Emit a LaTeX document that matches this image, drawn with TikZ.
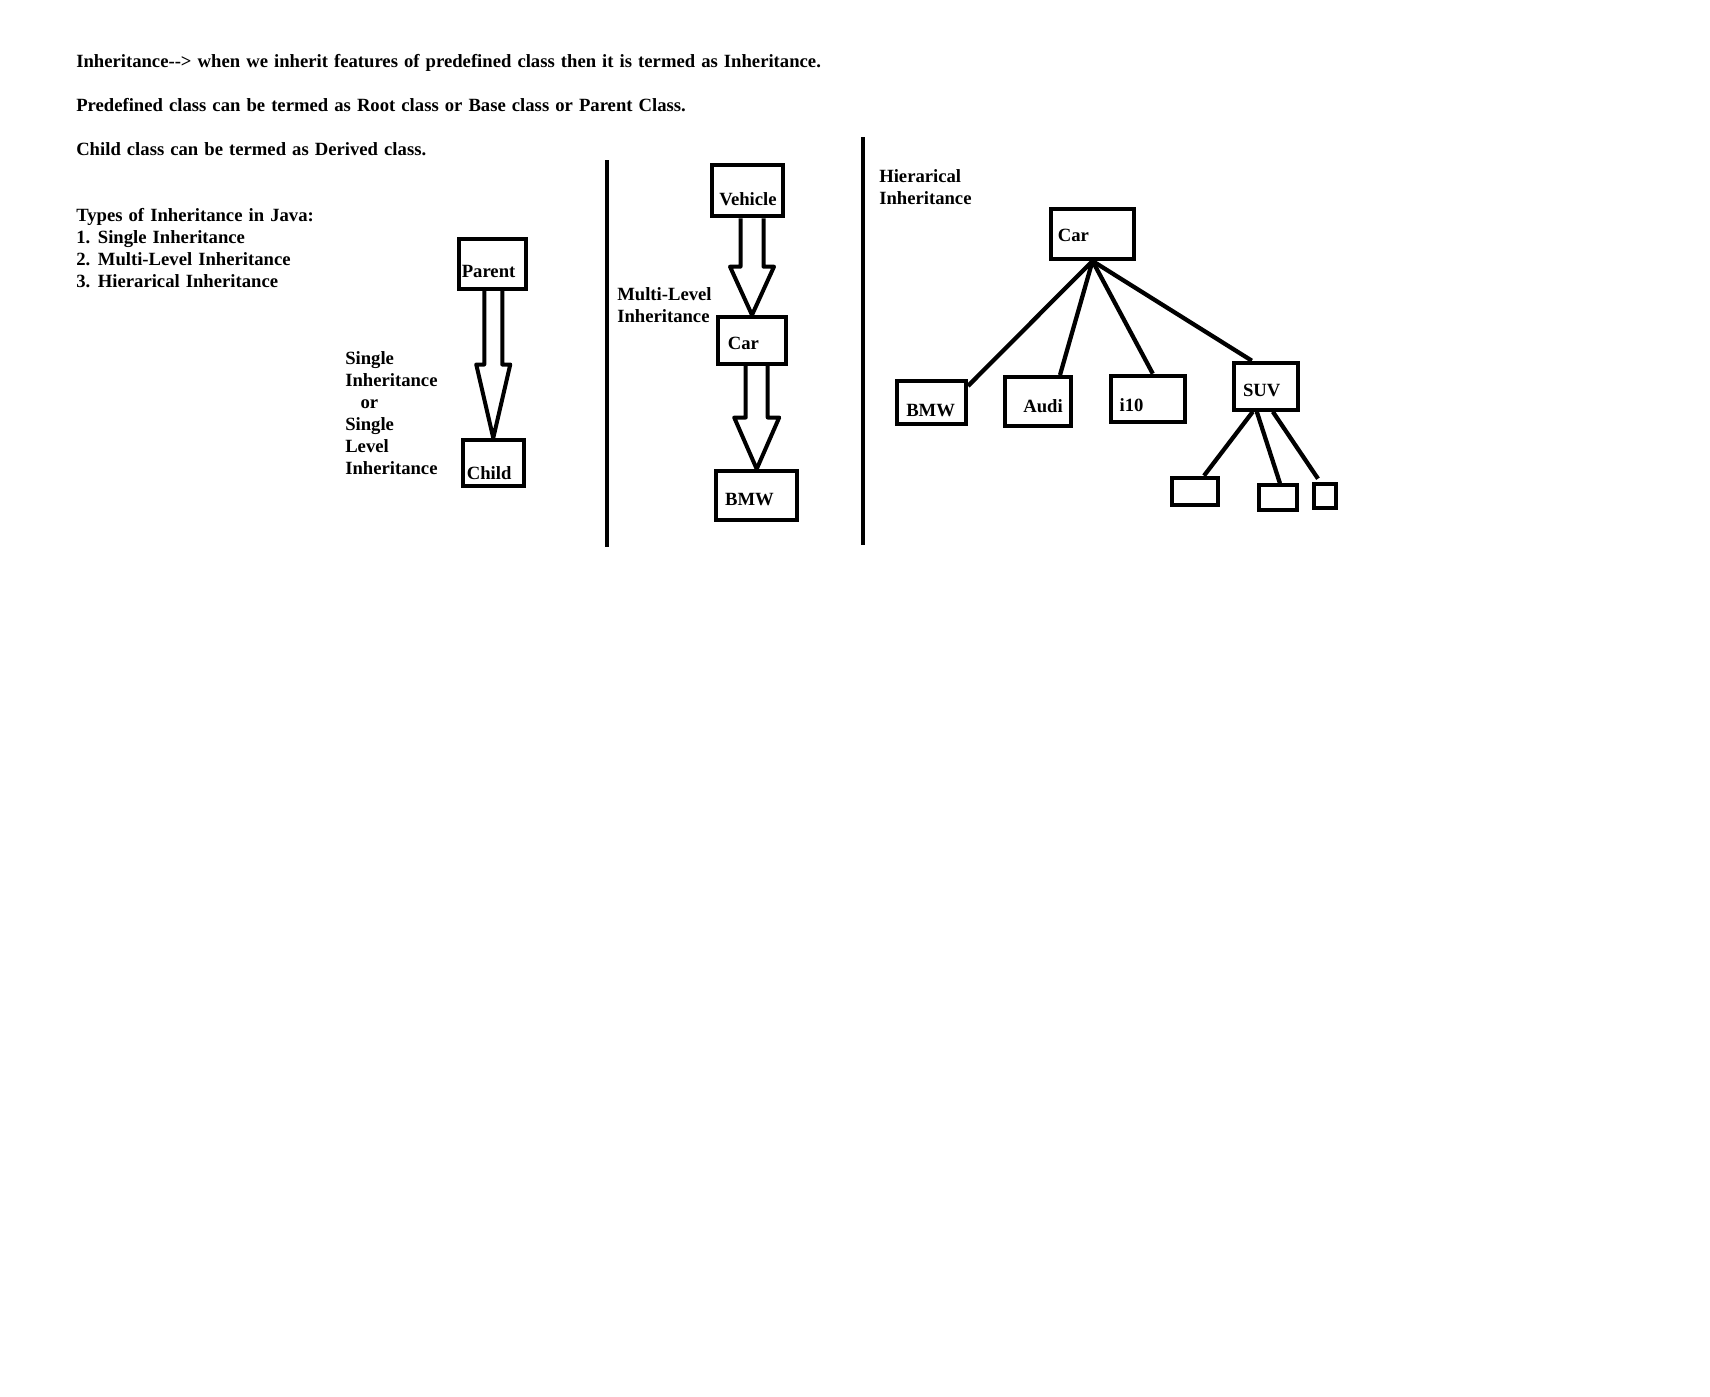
\documentclass[tikz,border=0pt]{standalone}
\usepackage{fontspec}
\setmainfont{Liberation Serif}[WordSpace=1.3]
\usetikzlibrary{calc,fit}

\begin{document}
\begin{tikzpicture}[x=0.75pt,y=-0.75pt]
  % Styles
  \tikzset{
    box/.style={draw,line width=3pt,inner sep=0pt},
    divider/.style={line width=3pt},
    link/.style={line width=3.2pt},
    fat/.style={line width=3pt,line join=round},
    txt/.style={inner sep=0pt,align=left,font=\fontsize{14}{16.5}\selectfont\bfseries}
  }
  \fill[white] (0,0) rectangle (1710,1396);

  % Intro text
  \node[txt,anchor=base west] (intro) at (76,67.5)
    {Inheritance-\kern0pt-\kern0pt> when we inherit features of predefined class then it is termed as Inheritance.};
  \node[txt,anchor=base west] (root) at (76,111)
    {Predefined class can be termed as Root class or Base class or Parent Class.};
  \node[txt,anchor=base west] (derived) at (76,155)
    {Child class can be termed as Derived class.};
  \node[txt,anchor=north west] (types) at (76,208.5)
    {Types of Inheritance in Java:\\1. Single Inheritance\\2. Multi-Level Inheritance\\3. Hierarical Inheritance};

  % Dividers
  \draw[divider] (607,160) -- (607,547);
  \draw[divider] (863,137) -- (863,545);

  % Single inheritance
  \node[box,fit={(459,239) (526,289)}] (parent) {};
  \node[box,fit={(462.7,440) (523.8,486)}] (child) {};
  \node[txt,anchor=west] (parent-t) at (461.5,271) {Parent};
  \node[txt,anchor=west] (child-t) at (466.5,473) {Child};
  \node[txt,anchor=north west] (single-t) at (345,351)
    {Single\\Inheritance\\\hspace*{11.5pt}or\\Single\\Level\\Inheritance};

  % Multi-level inheritance
  \node[box,fit={(711.5,164.7) (783.3,216.3)}] (vehicle) {};
  \node[box,fit={(718,317) (786,364)}] (carm) {};
  \node[box,fit={(716,471) (797.4,519.7)}] (bmwm) {};
  \node[txt,anchor=west] (vehicle-t) at (719,199) {Vehicle};
  \node[txt,anchor=west] (carm-t) at (727.5,343) {Car};
  \node[txt,anchor=west] (bmwm-t) at (724.8,500) {BMW};
  \node[txt,anchor=north west] (multi-t) at (617,287.5) {Multi-Level\\Inheritance};

  % Hollow arrows
  \foreach \from/\to/\w/\h in {parent/child/9/17,vehicle/carm/11.5/22,carm/bmwm/11/22.5}{
    \coordinate (s) at (\from.south -| \to.north);
    \coordinate (m) at ($(s)!0.5!(\to.north)$);
    \draw[fat] ($(s)+(-\w,0)$) -- ($(m)+(-\w,0)$) -- ($(m)+(-\h,0)$) -- (\to.north)
      -- ($(m)+(\h,0)$) -- ($(m)+(\w,0)$) -- ($(s)+(\w,0)$);
  }

  % Hierarical inheritance
  \node[txt,anchor=north west] (hier-t) at (879,169.5) {Hierarical\\Inheritance};
  \node[box,fit={(1051,208.7) (1134,259)}] (carh) {};
  \node[box,fit={(897,381) (966,423.7)}] (bmwh) {};
  \node[box,fit={(1004.6,377) (1071.4,425.7)}] (audi) {};
  \node[box,fit={(1110.9,375.7) (1184.7,422)}] (iten) {};
  \node[box,fit={(1233.6,362.7) (1298,409.7)}] (suv) {};
  \node[box,fit={(1172,477.7) (1218,504.7)}] (sub1) {};
  \node[box,fit={(1258.9,485.3) (1297,509.7)}] (sub2) {};
  \node[box,fit={(1314,483.7) (1336,508)}] (sub3) {};
  \node[txt,anchor=west] (carh-t) at (1057.6,235.3) {Car};
  \node[txt,anchor=west] (bmwh-t) at (906,410.7) {BMW};
  \node[txt,anchor=west] (audi-t) at (1023,406) {Audi};
  \node[txt,anchor=west] (iten-t) at (1119.4,405) {i10};
  \node[txt,anchor=west] (suv-t) at (1242.8,390) {SUV};

  \draw[link] (carh.south) -- ($(bmwh.north east)+(0,7)$);
  \draw[link] (carh.south) -- ($(audi.north)+(22,0)$);
  \draw[link] (carh.south) -- ($(iten.north)+(5,0)$);
  \draw[link] (carh.south) -- ($(suv.north)+(-14,0)$);
  \draw[link] ($(suv.south)+(-13,0)$) -- ($(sub1.north)+(9,0)$);
  \draw[link] ($(suv.south)+(-9,0)$) -- ($(sub2.north)+(2,0)$);
  \draw[link] ($(suv.south)+(7,0)$) -- ($(sub3.north)+(-7,-3)$);
\end{tikzpicture}
\end{document}
